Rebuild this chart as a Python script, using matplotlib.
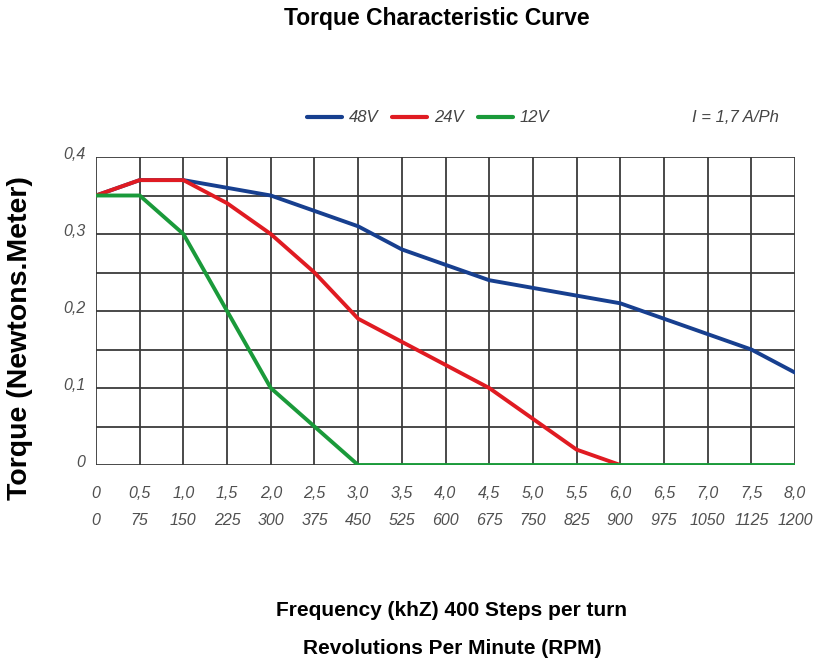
import matplotlib
matplotlib.use("Agg")
import matplotlib.pyplot as plt

freq = [0, 0.5, 1.0, 1.5, 2.0, 2.5, 3.0, 3.5, 4.0, 4.5, 5.0, 5.5, 6.0, 6.5, 7.0, 7.5, 8.0]
rpm = [0, 75, 150, 225, 300, 375, 450, 525, 600, 675, 750, 825, 900, 975, 1050, 1125, 1200]
t48 = [0.35, 0.37, 0.37, 0.36, 0.35, 0.33, 0.31, 0.28, 0.26, 0.24, 0.23, 0.22, 0.21, 0.19, 0.17, 0.15, 0.12]
t24 = [0.35, 0.37, 0.37, 0.34, 0.30, 0.25, 0.19, 0.16, 0.13, 0.10, 0.06, 0.02, 0.0]
f24 = freq[:13]
t12 = [0.35, 0.35, 0.30, 0.20, 0.10, 0.05, 0.0, 0, 0, 0, 0, 0, 0, 0, 0, 0, 0]
ytick_vals = [0, 0.1, 0.2, 0.3, 0.4]
ytick_labels = ["0", "0,1", "0,2", "0,3", "0,4"]
xtick_labels = [f"{f:.1f}".replace(".", ",") if f else "0" for f in freq]

fnt = "Liberation Sans"

fig = plt.figure(figsize=(8.16, 6.69), dpi=100)
ax = fig.add_axes([96/816, 1-465/669, (795-96)/816, (465-157)/669])

c48, c24, c12 = "#173f8f", "#e01b22", "#1a9a3a"
ax.plot(freq, t48, color=c48, lw=2.8, solid_joinstyle="round", zorder=3)
ax.plot(f24, t24, color=c24, lw=2.8, solid_joinstyle="round", zorder=3)
ax.plot(freq, t12, color=c12, lw=2.8, solid_joinstyle="round", zorder=4)

ax.set_xlim(0, 8)
ax.set_ylim(0, 0.4)
ax.set_xticks(freq)
ax.set_yticks([i*0.05 for i in range(9)])
ax.grid(True, color="#3a3a3a", lw=1.3)
ax.set_axisbelow(True)
for s in ax.spines.values():
    s.set_visible(False)
ax.tick_params(length=0, labelbottom=False, labelleft=False)

tcol = "#505050"
for f, r, lab in zip(freq, rpm, xtick_labels):
    ax.text(f, -0.037, lab, ha="center", va="center", fontsize=11.5, style="italic",
            color=tcol, family=fnt)
    ax.text(f, -0.072, str(r), ha="center", va="center", fontsize=11.5, style="italic",
            color=tcol, family=fnt)
for v, lab in zip(ytick_vals, ytick_labels):
    ax.text(-0.12, v + 0.003, lab, ha="right", va="center", fontsize=11.5, style="italic",
            color=tcol, family=fnt)

fig.text(437/816, 1-19/669, "Torque Characteristic Curve", ha="center", va="center",
         fontsize=16.5, fontweight="bold", family=fnt)
fig.text(20/816, 1-338/669, "Torque (Newtons.Meter)", ha="center", va="center",
         rotation=90, fontsize=20.5, fontweight="bold", family=fnt)
fig.text(452/816, 1-610/669, "Frequency (khZ) 400 Steps per turn", ha="center", va="center",
         fontsize=15, fontweight="bold", family=fnt)
fig.text(452/816, 1-648/669, "Revolutions Per Minute (RPM)", ha="center", va="center",
         fontsize=15, fontweight="bold", family=fnt)

# legend
ly = 1-117/669
for x0, col, lab in [(307, c48, "48V"), (392, c24, "24V"), (478, c12, "12V")]:
    fig.add_artist(plt.Line2D([x0/816, (x0+35)/816], [ly, ly], color=col, lw=3,
                              solid_capstyle="round"))
    fig.text((x0+42)/816, ly, lab, ha="left", va="center", fontsize=12, style="italic",
             color="#444444", family=fnt)
fig.text(735/816, ly, "I = 1,7 A/Ph", ha="center", va="center", fontsize=12, style="italic",
         color="#444444", family=fnt)

fig.savefig("out.png", dpi=100)
